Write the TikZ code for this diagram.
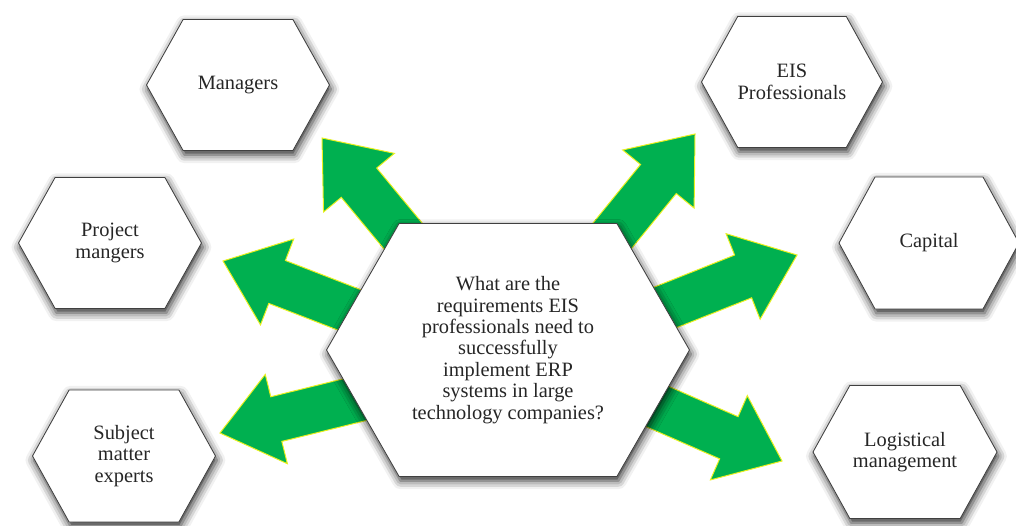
\documentclass[tikz,border=0pt]{standalone}
\usepackage{fontspec}
\setmainfont{Liberation Serif}
\usetikzlibrary{calc,shadows.blur}

\definecolor{arrowgreen}{RGB}{0,176,80}
\definecolor{arrowedge}{RGB}{235,240,30}

\tikzset{
  hexa/.style={fill=white, draw=black!75, line width=0.6pt,
    blur shadow={shadow xshift=1pt, shadow yshift=-3pt,
      shadow blur radius=6pt, shadow opacity=85}},
  hexlabel/.style={align=center, text=black!85, inner sep=0pt,
    font=\fontsize{14.5}{15.2}\selectfont},
  greenarrow/.style={fill=arrowgreen, draw=arrowedge, line width=0.7pt},
}

% hexagon + label: name, centre, width, height, text
\newcommand\hexnode[5]{%
  \begin{scope}[shift={(#2)}]
    \filldraw[hexa] (-0.5*#3,0) -- (-0.3*#3,-0.5*#4) -- (0.3*#3,-0.5*#4)
      -- (0.5*#3,0) -- (0.3*#3,0.5*#4) -- (-0.3*#3,0.5*#4) -- cycle;
    \node[hexlabel] (#1) at (0,0) {#5};
  \end{scope}}

% block arrow from tail to tip
\newcommand\fatarrow[2]{%
  \coordinate (hb) at ($(#2)!1.45cm!(#1)$); % base of the head
  \filldraw[greenarrow] ($(#1)!0.575cm!90:(#2)$) -- ($(hb)!0.575cm!90:(#2)$)
    -- ($(hb)!1.15cm!90:(#2)$) -- (#2) -- ($(hb)!1.15cm!-90:(#2)$)
    -- ($(hb)!0.575cm!-90:(#2)$) -- ($(#1)!0.575cm!-90:(#2)$) -- cycle;}

\begin{document}
\begin{tikzpicture}[x=0.025cm, y=-0.025cm]
\useasboundingbox (0,0) rectangle (1016,525);

%arrow ends
\coordinate (mgr tail) at (437,277); \coordinate (mgr tip) at (322,138);
\coordinate (prj tail) at (409,333); \coordinate (prj tip) at (223,261);
\coordinate (sme tail) at (414,385); \coordinate (sme tip) at (220,433);
\coordinate (eis tail) at (582,273); \coordinate (eis tip) at (695,134);
\coordinate (cap tail) at (611,329); \coordinate (cap tip) at (797,255);
\coordinate (log tail) at (599,381); \coordinate (log tip) at (782,461);

\fatarrow{mgr tail}{mgr tip}
\fatarrow{prj tail}{prj tip}
\fatarrow{sme tail}{sme tip}
\fatarrow{eis tail}{eis tip}
\fatarrow{cap tail}{cap tip}
\fatarrow{log tail}{log tip}

%outer hexagons
\hexnode{managers}{238,85}{183}{131}{Managers}
\hexnode{projmgr}{110,243}{183}{131}{Project\\mangers}
\hexnode{experts}{124,456}{183}{132}{Subject\\matter\\experts}
\hexnode{eispro}{792,82}{181}{131}{EIS\\Professionals}
\hexnode{capital}{929,243}{180}{132}{Capital}
\hexnode{logist}{905,452}{184}{133}{Logistical\\management}

%centre question
\hexnode{question}{508,350}{363}{253}{What are the\\requirements EIS\\professionals need to\\successfully\\implement ERP\\systems in large\\technology companies?}
\end{tikzpicture}
\end{document}
